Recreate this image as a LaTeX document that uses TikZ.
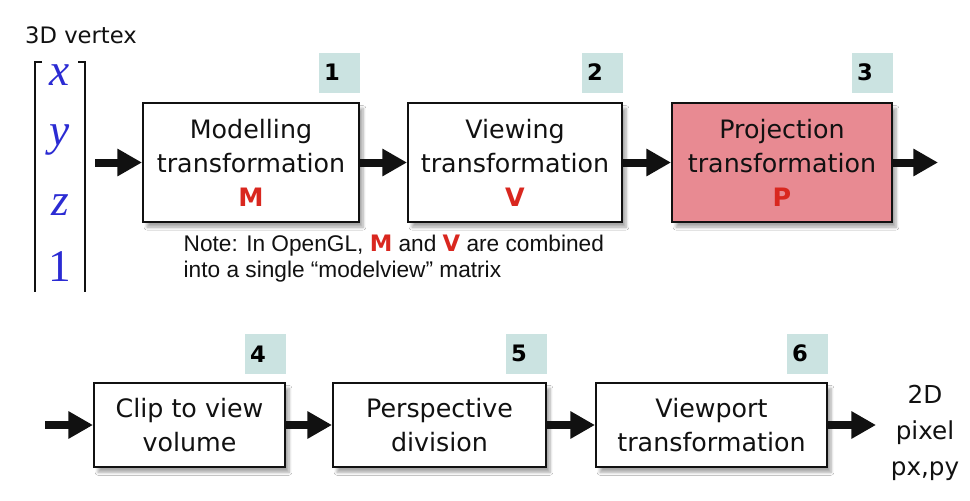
\documentclass[tikz,border=0pt]{standalone}
\usepackage{fontspec}
\setmainfont{DejaVu Sans}
\newfontfamily\notefont{Liberation Sans}
\newfontfamily\vecfont{Liberation Serif}
\usepackage{xcolor}
\usepackage{tikz}
\usetikzlibrary{positioning,arrows.meta,shadows.blur}
\definecolor{bg}{HTML}{FFFFFF}
\definecolor{text}{HTML}{111111}
\definecolor{tagbg}{HTML}{CBE3E1}
\definecolor{projbg}{HTML}{E88A92}
\definecolor{mred}{HTML}{D9271F}
\definecolor{vecblue}{HTML}{2B2BD3}
\newcommand\hlm[1]{{\color{mred}\normalfont\bfseries #1}}
\tikzset{
  stage/.style={draw=text, line width=1.5pt, fill=white, align=center, text=text,
    font=\fontsize{19}{25.5}\selectfont,
    blur shadow={shadow xshift=3pt, shadow yshift=-4pt, shadow blur steps=6, shadow opacity=35}},
  tag/.style={fill=tagbg, minimum width=30.75pt, minimum height=30pt, inner xsep=4pt,
    text width=22.75pt, align=left, font=\bfseries\fontsize{17}{17}\selectfont},
  flow/.style={draw=text, line width=6pt, -{Triangle[length=18.5pt,width=19.5pt]}},
  brk/.style={draw=text, line width=2pt},
  vec/.style={text=vecblue, font=\vecfont\fontsize{34}{34}\selectfont},
  lab/.style={text=text, align=center, font=\fontsize{18.5}{27}\selectfont},
  note/.style={text=text, align=left, font=\notefont\fontsize{17}{19.5}\selectfont},
}
\begin{document}
\begin{tikzpicture}[x=0.75pt, y=-0.75pt]
  \useasboundingbox[fill=bg] (0,0) rectangle (970,500);
  % input vertex
  \node[lab, font=\fontsize{17}{20}\selectfont] (vlab) at (81,35) {3D vertex};
  \draw[brk] (42,62) -- (35,62) -- (35,292);
  \draw[brk] (78,62) -- (85,62) -- (85,292);
  \node[vec] (vx) at (60,75) {\itshape x};
  \node[vec] (vy) at (60,140) {\itshape y};
  \node[vec] (vz) at (60,205) {\itshape z};
  \node[vec] (vw) at (60,267) {1};
  \coordinate (vin) at (95,162.5);
  % top row
  \node[stage, minimum width=162pt, minimum height=89pt] (model) at (251,162.5)
    {Modelling\\transformation\\\hlm{M}};
  \node[stage, minimum width=160.5pt, minimum height=89pt] (view) at (515,162.5)
    {Viewing\\transformation\\\hlm{V}};
  \node[stage, fill=projbg, minimum width=165pt, minimum height=89pt] (proj) at (782,162.5)
    {Projection\\transformation\\\hlm{P}};
  \coordinate (pout) at (938,162.5);
  \node[tag, above=7pt of model.north east, anchor=south east] (t1) {1};
  \node[tag, above=7pt of view.north east, anchor=south east] (t2) {2};
  \node[tag, above=7pt of proj.north east, anchor=south east] (t3) {3};
  \draw[flow] (vin) -- (model);
  \draw[flow] (model) -- (view);
  \draw[flow] (view) -- (proj);
  \draw[flow] (proj) -- (pout);
  \node[note, anchor=north west] (mvnote) at (179,230)
    {Note: In OpenGL, \hlm{M} and \hlm{V} are combined\\into a single \textquotedblleft modelview\textquotedblright{} matrix};
  % bottom row
  \coordinate (cin) at (45,425);
  \node[stage, minimum width=143.25pt, minimum height=63pt] (clip) at (189.5,425)
    {Clip to view\\volume};
  \node[stage, minimum width=159.75pt, minimum height=63pt] (persp) at (439.5,425)
    {Perspective\\division};
  \node[stage, minimum width=173.25pt, minimum height=63pt] (vport) at (711.5,425)
    {Viewport\\transformation};
  \coordinate (pix) at (876,425);
  \node[lab] (pixlab) at (925,433) {2D\\pixel\\px,py};
  \node[tag, above=6pt of clip.north east, anchor=south east] (t4) {4};
  \node[tag, above=6pt of persp.north east, anchor=south east] (t5) {5};
  \node[tag, above=6pt of vport.north east, anchor=south east] (t6) {6};
  \draw[flow] (cin) -- (clip);
  \draw[flow] (clip) -- (persp);
  \draw[flow] (persp) -- (vport);
  \draw[flow] (vport) -- (pix);
\end{tikzpicture}
\end{document}
